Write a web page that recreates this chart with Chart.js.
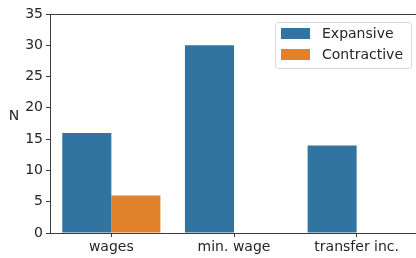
<!DOCTYPE html>
<html>
<head>
<meta charset="utf-8">
<script src="https://cdn.jsdelivr.net/npm/chart.js@4.4.0/dist/chart.umd.min.js"></script>
<style>
  html, body { margin: 0; padding: 0; background: #fff; overflow: hidden; }
  #chart { display: block; }
</style>
</head>
<body>
<canvas id="chart" width="418" height="258"></canvas>
<script>
// Chart data
const categories = ['wages', 'min. wage', 'transfer inc.'];
const expansive = [16, 30, 14];
const contractive = [6, 0, 0];
const yTicks = [0, 5, 10, 15, 20, 25, 30, 35];

const FONT = 'DejaVu Sans';
const AXIS_COLOR = '#3b3b3b';

// top spine, upright y label and matplotlib-style legend
const extras = {
  id: 'extras',
  afterDraw(chart) {
    const ctx = chart.ctx;
    const area = chart.chartArea;
    ctx.save();
    ctx.strokeStyle = AXIS_COLOR;
    ctx.lineWidth = 1;
    ctx.beginPath();
    ctx.moveTo(area.left, area.top + 0.5);
    ctx.lineTo(area.right, area.top + 0.5);
    ctx.stroke();

    ctx.fillStyle = '#262626';
    ctx.font = '14px "' + FONT + '"';
    ctx.textAlign = 'center';
    ctx.textBaseline = 'middle';
    ctx.fillText('N', 14, 116);

    // legend box
    const bx = 275, by = 22, bw = 136, bh = 46;
    ctx.fillStyle = 'rgba(255,255,255,0.8)';
    ctx.strokeStyle = '#d6d6d6';
    ctx.beginPath();
    ctx.roundRect(bx + 0.5, by + 0.5, bw, bh, 3);
    ctx.fill();
    ctx.stroke();
    ctx.textAlign = 'left';
    chart.data.datasets.forEach(function (ds, i) {
      const y = 28 + i * 21;
      ctx.fillStyle = ds.backgroundColor;
      ctx.fillRect(281, y, 29, 11);
      ctx.fillStyle = '#262626';
      ctx.fillText(ds.label, 322, y + 6);
    });
    ctx.restore();
  }
};

new Chart(document.getElementById('chart'), {
  type: 'bar',
  data: {
    labels: categories,
    datasets: [{
      label: 'Expansive',
      data: expansive,
      backgroundColor: '#3274a1',
      borderWidth: 0
    }, {
      label: 'Contractive',
      data: contractive,
      backgroundColor: '#e1812c',
      borderWidth: 0
    }]
  },
  options: {
    responsive: false,
    animation: false,
    layout: { padding: { top: 14, right: 0, left: 0, bottom: 0 } },
    datasets: {
      bar: { categoryPercentage: 0.8, barPercentage: 1.0 }
    },
    plugins: {
      legend: { display: false },
      tooltip: { enabled: false }
    },
    scales: {
      x: {
        grid: { drawOnChartArea: false, offset: false, tickLength: 4, color: AXIS_COLOR },
        border: { display: true, color: AXIS_COLOR, width: 1 },
        ticks: { color: '#262626', font: { family: FONT, size: 14 }, padding: 2, maxRotation: 0 },
        afterFit(scale) { scale.height = 25; }
      },
      y: {
        min: 0,
        max: 35,
        afterBuildTicks(scale) { scale.ticks = yTicks.map(v => ({ value: v })); },
        grid: { drawOnChartArea: false, tickLength: 4, color: AXIS_COLOR },
        border: { display: true, color: AXIS_COLOR, width: 1 },
        ticks: { color: '#262626', font: { family: FONT, size: 14 }, padding: 3 },
        afterFit(scale) { scale.width = 50; }
      }
    }
  },
  plugins: [extras]
});
</script>
</body>
</html>
